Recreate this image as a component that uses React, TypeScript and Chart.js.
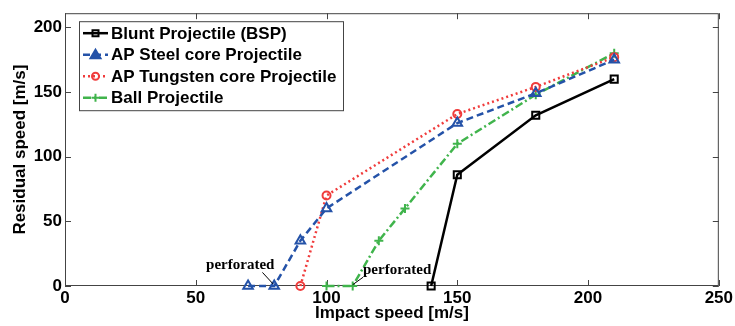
import { useEffect, useRef } from 'react';
import { Chart, registerables } from 'chart.js';
Chart.register(...registerables);

const seriesNames = [
  'Blunt Projectile (BSP)',
  'AP Steel core Projectile',
  'AP Tungsten core Projectile',
  'Ball Projectile',
];
const xBSP = [140, 150, 180, 210];
const yBSP = [0, 86, 132, 160];
const xSteel = [70, 80, 90, 100, 150, 180, 210];
const ySteel = [0, 0, 35, 60, 126, 149, 175];
const xTung = [90, 100, 150, 180, 210];
const yTung = [0, 70, 133, 154, 177];
const xBall = [100, 110, 120, 130, 150, 180, 210];
const yBall = [0, 0, 35, 60, 110, 148, 180];
const xTicks = [0, 50, 100, 150, 200, 250];
const yTicks = [0, 50, 100, 150, 200];
const annotations = [
  { label: 'perforated', x: 67, y: 16, fromX: 75.5, fromY: 10.5, toX: 79.6, toY: 1.5 },
  { label: 'perforated', x: 127, y: 12, fromX: 114, fromY: 6.8, toX: 110, toY: 1 },
];

const colors = ['#000000', '#2452A8', '#F03C3C', '#40B44C'];
const dashes = [[], [7, 4], [2, 3], [8, 3, 2, 3]];
const styles = ['rect', 'triangle', 'circle', 'cross'];

function pts(xs: number[], ys: number[]) {
  return xs.map((x, i) => ({ x, y: ys[i] }));
}

function drawMarker(ctx: CanvasRenderingContext2D, style: string, x: number, y: number, color: string, filled: boolean) {
  ctx.save();
  ctx.setLineDash([]);
  ctx.strokeStyle = color;
  ctx.fillStyle = color;
  ctx.lineWidth = 2;
  ctx.beginPath();
  if (style === 'rect') {
    ctx.rect(x - 3, y - 3, 6, 6);
    ctx.stroke();
  } else if (style === 'triangle') {
    ctx.moveTo(x, y - 5);
    ctx.lineTo(x + 5, y + 3.5);
    ctx.lineTo(x - 5, y + 3.5);
    ctx.closePath();
    if (filled) ctx.fill();
    ctx.stroke();
  } else if (style === 'circle') {
    ctx.arc(x, y, 3.5, 0, Math.PI * 2);
    ctx.stroke();
  } else {
    ctx.moveTo(x - 4, y);
    ctx.lineTo(x + 4, y);
    ctx.moveTo(x, y - 4);
    ctx.lineTo(x, y + 4);
    ctx.stroke();
  }
  ctx.restore();
}

const framePlugin = {
  id: 'frame',
  beforeDatasetsDraw(chart: any) {
    const { ctx, chartArea, scales } = chart;
    const { left, right, top, bottom } = chartArea;
    ctx.save();
    ctx.strokeStyle = '#444';
    ctx.lineWidth = 1;
    ctx.strokeRect(left + 0.5, top + 0.5, right - left - 1, bottom - top - 1);
    ctx.beginPath();
    xTicks.forEach((v) => {
      const px = Math.round(scales.x.getPixelForValue(v)) + 0.5;
      ctx.moveTo(px, bottom);
      ctx.lineTo(px, bottom - 6);
      ctx.moveTo(px, top);
      ctx.lineTo(px, top + 6);
    });
    yTicks.forEach((v) => {
      const py = Math.round(scales.y.getPixelForValue(v)) + 0.5;
      ctx.moveTo(left, py);
      ctx.lineTo(left + 6, py);
      ctx.moveTo(right, py);
      ctx.lineTo(right - 6, py);
    });
    ctx.stroke();
    ctx.restore();
  },
};

const annotationPlugin = {
  id: 'annot',
  afterDatasetsDraw(chart: any) {
    const { ctx, scales } = chart;
    ctx.save();
    ctx.font = 'bold 15px "Liberation Serif"';
    ctx.fillStyle = '#000';
    ctx.strokeStyle = '#000';
    ctx.lineWidth = 1;
    ctx.textAlign = 'center';
    ctx.textBaseline = 'middle';
    annotations.forEach((a) => {
      ctx.fillText(a.label, scales.x.getPixelForValue(a.x), scales.y.getPixelForValue(a.y));
      ctx.beginPath();
      ctx.moveTo(scales.x.getPixelForValue(a.fromX), scales.y.getPixelForValue(a.fromY));
      ctx.lineTo(scales.x.getPixelForValue(a.toX), scales.y.getPixelForValue(a.toY));
      ctx.stroke();
    });
    ctx.restore();
  },
};

const legendPlugin = {
  id: 'boxLegend',
  afterDraw(chart: any) {
    const { ctx, chartArea } = chart;
    const x0 = chartArea.left + 14;
    const y0 = chartArea.top + 8;
    const w = 264;
    const h = 89;
    ctx.save();
    ctx.fillStyle = '#fff';
    ctx.fillRect(x0, y0, w, h);
    ctx.strokeStyle = '#444';
    ctx.lineWidth = 1;
    ctx.strokeRect(x0 + 0.5, y0 + 0.5, w, h);
    chart.data.datasets.forEach((ds: any, i: number) => {
      const cy = y0 + 12 + i * 21.5;
      ctx.setLineDash(ds.borderDash || []);
      ctx.strokeStyle = ds.borderColor;
      ctx.lineWidth = 2.5;
      ctx.beginPath();
      ctx.moveTo(x0 + 4, cy);
      ctx.lineTo(x0 + 29, cy);
      ctx.stroke();
      ctx.setLineDash([]);
      drawMarker(ctx, ds.pointStyle, x0 + 16.5, cy, ds.borderColor, true);
      ctx.fillStyle = '#000';
      ctx.font = 'bold 17px "Liberation Sans"';
      ctx.textAlign = 'left';
      ctx.textBaseline = 'middle';
      ctx.fillText(ds.label, x0 + 32, cy + 1);
    });
    ctx.restore();
  },
};

export default function App() {
  const ref = useRef<HTMLCanvasElement | null>(null);
  useEffect(() => {
    if (!ref.current) return;
    const series = [pts(xBSP, yBSP), pts(xSteel, ySteel), pts(xTung, yTung), pts(xBall, yBall)];
    const font = { family: '"Liberation Sans"', size: 17, weight: 'bold' as const };
    const chart = new Chart(ref.current, {
      type: 'line',
      data: {
        datasets: series.map((d, i) => ({
          label: seriesNames[i],
          data: d,
          borderColor: colors[i],
          backgroundColor: colors[i],
          borderWidth: 2.5,
          borderDash: dashes[i],
          pointStyle: styles[i] as any,
          pointRadius: i === 0 ? 5 : i === 1 ? 5.5 : i === 2 ? 4 : 4.5,
          pointBorderWidth: 2,
          pointBorderColor: colors[i],
          pointBackgroundColor: 'rgba(255,255,255,0)',
          tension: 0,
          fill: false,
          clip: false as any,
        })),
      },
      options: {
        responsive: false,
        animation: false,
        layout: { padding: { top: 7, right: 16, left: 0, bottom: 0 } },
        plugins: { legend: { display: false }, tooltip: { enabled: false } },
        scales: {
          x: {
            type: 'linear',
            min: 0,
            max: 250,
            grid: { display: false, drawTicks: false },
            border: { display: false },
            afterFit: (s: any) => { s.height = 40; },
            afterBuildTicks: (s: any) => { s.ticks = xTicks.map((v) => ({ value: v })); },
            ticks: { color: '#000', font, padding: 2, maxRotation: 0 },
            title: { display: true, text: 'Impact speed [m/s]', color: '#000', font, padding: { top: 0, bottom: 2 } },
          },
          y: {
            type: 'linear',
            min: 0,
            max: 211,
            grid: { display: false, drawTicks: false },
            border: { display: false },
            afterFit: (s: any) => { s.width = 65; },
            afterBuildTicks: (s: any) => { s.ticks = yTicks.map((v) => ({ value: v })); },
            ticks: { color: '#000', font, padding: 3 },
            title: { display: true, text: 'Residual speed [m/s]', color: '#000', font, padding: { top: 10, bottom: 0 } },
          },
        },
      },
      plugins: [framePlugin, annotationPlugin, legendPlugin],
    });
    return () => chart.destroy();
  }, []);
  return (
    <div style={{ position: 'fixed', left: 0, top: 0, width: 735, height: 326, background: '#fff' }}>
      <canvas ref={ref} width={735} height={326} style={{ width: 735, height: 326, display: 'block' }} />
    </div>
  );
}
